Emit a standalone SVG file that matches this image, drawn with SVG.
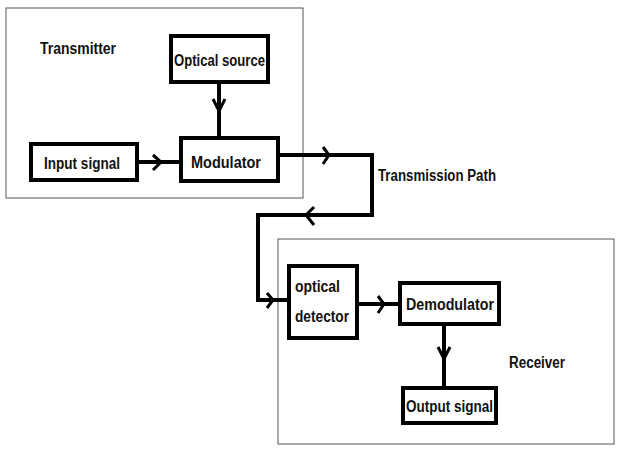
<svg xmlns="http://www.w3.org/2000/svg" width="624" height="465" viewBox="0 0 624 465">
<style>
.frame{fill:#fff;stroke:#555;stroke-width:1}
.box{fill:#fff;stroke:#000;stroke-width:4}
.t{font-family:"Liberation Sans",Arial,sans-serif;font-weight:bold;font-size:16px;fill:#111}
.ln{fill:none;stroke:#000;stroke-width:4}
.ch{fill:none;stroke:#000;stroke-width:3}
</style>
<rect width="624" height="465" fill="#fff"/>
<g id="transmitter"><rect class="frame" x="6" y="8" width="297" height="190"/><text class="t" x="40" y="54" textLength="76" lengthAdjust="spacingAndGlyphs">Transmitter</text></g>
<g id="receiver"><rect class="frame" x="278" y="239" width="336" height="205"/><text class="t" x="509" y="368" textLength="56" lengthAdjust="spacingAndGlyphs">Receiver</text></g>
<g id="connectors">
<path class="ln" d="M219 82V138"/><path class="ch" d="M213 99L219 111L225 99"/>
<path class="ln" d="M137 162H181"/><path class="ch" d="M153 155L161 162L153 170"/>
<path class="ln" d="M278 155H372V215H258V300H289"/>
<path class="ch" d="M323 147L329 155L323 164"/>
<path class="ch" d="M314 207L306 215L314 225"/>
<path class="ch" d="M267 293L273 300L267 308"/>
<path class="ln" d="M357 304H400"/><path class="ch" d="M378 296L384 304L378 313"/>
<path class="ln" d="M444 324V388"/><path class="ch" d="M438 347L444 359L450 347"/>
<text class="t" x="378" y="181" textLength="118" lengthAdjust="spacingAndGlyphs">Transmission Path</text>
</g>
<g id="optical-source"><rect class="box" x="171" y="36" width="97" height="46"/><text class="t" x="174" y="66" textLength="91" lengthAdjust="spacingAndGlyphs">Optical source</text></g>
<g id="input-signal"><rect class="box" x="31" y="144" width="106" height="36"/><text class="t" x="44" y="169" textLength="76" lengthAdjust="spacingAndGlyphs">Input signal</text></g>
<g id="modulator"><rect class="box" x="181" y="138" width="97" height="43"/><text class="t" x="191" y="168" textLength="70" lengthAdjust="spacingAndGlyphs">Modulator</text></g>
<g id="optical-detector"><rect class="box" x="289" y="266" width="68" height="72"/><text class="t" x="295" y="292" textLength="45" lengthAdjust="spacingAndGlyphs">optical</text><text class="t" x="295" y="322" textLength="54" lengthAdjust="spacingAndGlyphs">detector</text></g>
<g id="demodulator"><rect class="box" x="400" y="283" width="99" height="41"/><text class="t" x="406" y="310" textLength="88" lengthAdjust="spacingAndGlyphs">Demodulator</text></g>
<g id="output-signal"><rect class="box" x="403" y="388" width="93" height="35"/><text class="t" x="406" y="412" textLength="87" lengthAdjust="spacingAndGlyphs">Output signal</text></g>
</svg>
